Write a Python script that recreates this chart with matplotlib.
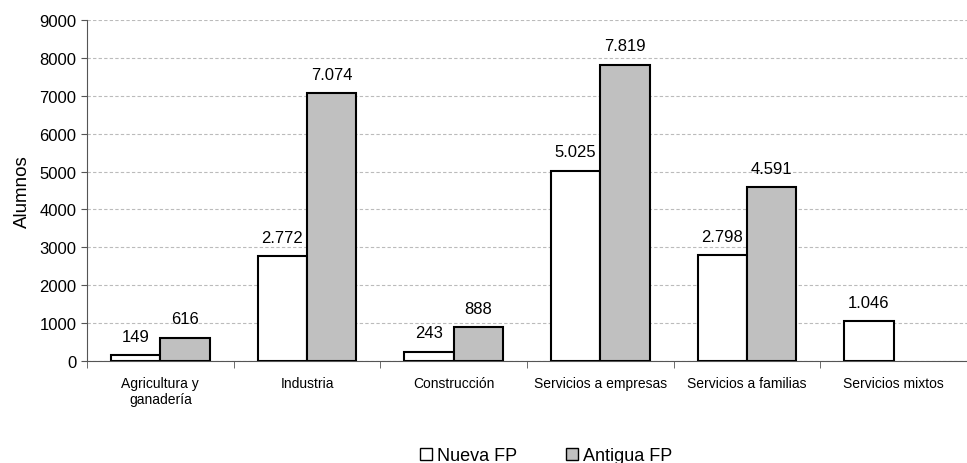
import numpy as np
import matplotlib
matplotlib.use("Agg")
import matplotlib.pyplot as plt
from matplotlib.patches import Patch

plt.rcParams['font.family'] = ['Liberation Sans', 'DejaVu Sans']

categorias = ["Agricultura y\nganadería", "Industria", "Construcción",
              "Servicios a empresas", "Servicios a familias", "Servicios mixtos"]
nueva_fp = [149, 2772, 243, 5025, 2798, 1046]
antigua_fp = [616, 7074, 888, 7819, 4591, None]


def fmt(v):
    return f"{v:,}".replace(",", ".")


fig = plt.figure(figsize=(9.67, 4.64), dpi=100)
ax = fig.add_axes([87 / 967, (464 - 362) / 464, 1 - 87 / 967, (362 - 21) / 464])

x = np.arange(len(categorias))
w = 0.337
for i in x:
    if nueva_fp[i] is not None:
        ax.bar(i - w / 2, nueva_fp[i], w, color="white", edgecolor="black", linewidth=1.5, zorder=3)
        ax.text(i - w / 2, nueva_fp[i] + 300, fmt(nueva_fp[i]), ha="center", va="bottom", fontsize=12)
    if antigua_fp[i] is not None:
        ax.bar(i + w / 2, antigua_fp[i], w, color="#c0c0c0", edgecolor="black", linewidth=1.5, zorder=3)
        ax.text(i + w / 2, antigua_fp[i] + 300, fmt(antigua_fp[i]), ha="center", va="bottom", fontsize=12)

ax.set_ylim(0, 9000)
ax.set_yticks(range(0, 9001, 1000))
ax.set_xlim(-0.5, 5.426)
ax.yaxis.grid(True, linestyle=(0, (3, 2)), color="#bbbbbb", linewidth=0.8, zorder=0)
ax.set_axisbelow(True)

ax.set_xticks(x)
ax.set_xticklabels(categorias, fontsize=10)
ax.tick_params(axis="x", length=0, pad=11)
ax.set_xticks(np.arange(-0.5, 6, 1), minor=True)
ax.tick_params(axis="x", which="minor", length=5, direction="out", color="#555555")
ax.tick_params(axis="y", labelsize=12, length=4, color="#555555")
ax.set_ylabel("Alumnos", fontsize=13.5, labelpad=6)

for s in ["top", "right"]:
    ax.spines[s].set_visible(False)
ax.spines["left"].set_color("#555555")
ax.spines["bottom"].set_color("#555555")

handles = [Patch(facecolor="white", edgecolor="black", label="Nueva FP"),
           Patch(facecolor="#c0c0c0", edgecolor="black", label="Antigua FP")]
fig.legend(handles=handles, loc="center", bbox_to_anchor=(546 / 967, 1 - 457 / 464), ncol=2,
           frameon=False, fontsize=13, handlelength=0.67, handleheight=0.67,
           handletextpad=0.28, columnspacing=2.7, borderpad=0)

fig.savefig("out.png", dpi=100)
